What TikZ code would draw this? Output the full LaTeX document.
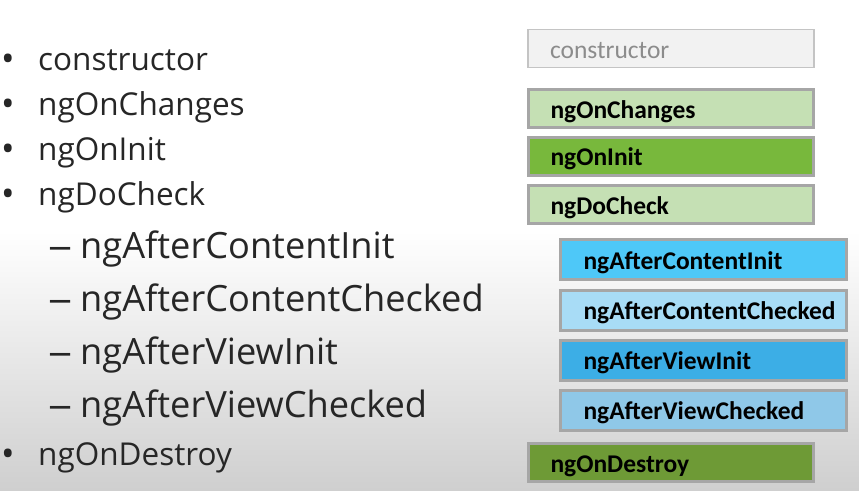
\documentclass[tikz,border=0pt]{standalone}
\usepackage{fontspec}
\usepackage{graphicx}
\setmainfont{Open Sans}
\newfontfamily\boxfont{Carlito}
\usetikzlibrary{positioning}
\definecolor{txt}{HTML}{262626}
\definecolor{bordergray}{HTML}{A6A6A6}
\definecolor{ctorfill}{HTML}{F2F2F2}
\definecolor{ctorborder}{HTML}{C4C4C4}
\definecolor{ctortext}{HTML}{8C8C8C}
\definecolor{lgreen}{HTML}{C5E0B4}
\definecolor{mgreen}{HTML}{78B83C}
\definecolor{dgreen}{HTML}{6E9A36}
\definecolor{blueA}{HTML}{4EC8F8}
\definecolor{blueB}{HTML}{A8DCF6}
\definecolor{blueC}{HTML}{3CAEE6}
\definecolor{blueD}{HTML}{8FC8E8}
\definecolor{bgbottom}{HTML}{CFCFCF}
\newcommand{\longdash}{\scalebox{1.33}[1]{–}}
\tikzset{
  item/.style={anchor=base west, inner sep=0pt, text=txt, font=\fontsize{31.5}{36}\selectfont},
  subitem/.style={anchor=base west, inner sep=0pt, text=txt, font=\fontsize{36.2}{40}\selectfont},
  bul/.style={anchor=base west, inner sep=0pt, text=txt, font=\fontsize{36}{40}\selectfont},
  hook/.style={draw=bordergray, line width=3pt, minimum width=285pt, minimum height=38pt,
    text width=241pt, inner xsep=22pt, inner ysep=0pt, text height=24pt, text depth=5pt,
    align=left, font=\boxfont\bfseries\fontsize{25.5}{30}\selectfont, text=black},
  subhook/.style={hook, minimum width=286pt, minimum height=40pt, text width=240pt, inner xsep=23pt},
  ctorbox/.style={hook, draw=ctorborder, line width=1.5pt, fill=ctorfill, minimum width=286pt, minimum height=38pt,
    text width=242pt, font=\boxfont\fontsize{25.5}{30}\selectfont, text=ctortext}
}
\begin{document}
\begin{tikzpicture}[x=1pt,y=-1pt]
\useasboundingbox (0,0) rectangle (859,490);
\fill[white] (0,0) rectangle (859,232);
\shade[top color=white, bottom color=bgbottom] (0,231) rectangle (859,490);

% left list
\node[bul] (b1) at (1,71) {•};
\node[item] (l1) at (38,70) {constructor};
\node[bul] (b2) at (1,116) {•};
\node[item] (l2) at (38,115) {ngOnChanges};
\node[bul] (b3) at (1,161) {•};
\node[item] (l3) at (38,160) {ngOnInit};
\node[bul] (b4) at (1,206) {•};
\node[item] (l4) at (38,205) {ngDoCheck};
\node[subitem] (d5) at (48,258) {\longdash};
\node[subitem] (l5) at (80,258) {ngAfterContentInit};
\node[subitem] (d6) at (48,311) {\longdash};
\node[subitem] (l6) at (80,311) {ngAfterContentChecked};
\node[subitem] (d7) at (48,364) {\longdash};
\node[subitem] (l7) at (80,364) {ngAfterViewInit};
\node[subitem] (d8) at (48,417) {\longdash};
\node[subitem] (l8) at (80,417) {ngAfterViewChecked};
\node[bul] (b9) at (1,466) {•};
\node[item] (l9) at (38,465) {ngOnDestroy};

% right boxes
\node[ctorbox] (r1) at (671,48.5) {constructor};
\node[hook, fill=lgreen] (r2) at (671,108.5) {ngOnChanges};
\node[hook, fill=mgreen] (r3) at (671,156) {ngOnInit};
\node[hook, fill=lgreen] (r4) at (671,204.5) {ngDoCheck};
\node[subhook, fill=blueA] (r5) at (703.5,259.5) {ngAfterContentInit};
\node[subhook, fill=blueB] (r6) at (703.5,310) {ngAfterContentChecked};
\node[subhook, fill=blueC] (r7) at (703.5,360) {ngAfterViewInit};
\node[subhook, fill=blueD] (r8) at (703.5,410) {ngAfterViewChecked};
\node[hook, fill=dgreen] (r9) at (671,462.5) {ngOnDestroy};
\end{tikzpicture}
\end{document}
